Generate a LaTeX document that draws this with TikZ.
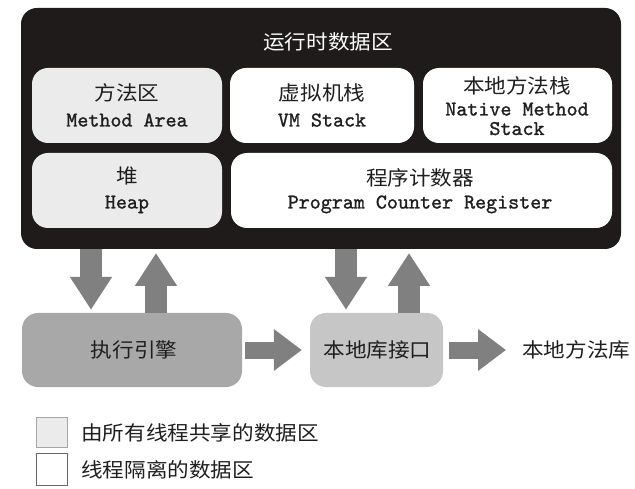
\documentclass[tikz,border=0pt]{standalone}
\usepackage{fontspec}
\newfontfamily\cjk[FakeStretch=1.08]{Noto Sans CJK SC}
\newfontfamily\enfont[FakeBold=1.2]{lmmono10-regular.otf}
\usetikzlibrary{arrows.meta}
\definecolor{darkbg}{HTML}{1E1B1A}
\definecolor{shared}{HTML}{EBEBEB}
\definecolor{arrowgray}{HTML}{808080}
\definecolor{execgray}{HTML}{A8A8A8}
\definecolor{nigray}{HTML}{C6C6C6}
\tikzset{
  cn/.style={inner sep=0pt, font=\cjk\fontsize{20}{24}\selectfont, text=black!88},
  en/.style={inner sep=0pt, font=\enfont\fontsize{21}{24}\selectfont, text height=13pt, text depth=0pt, text=black!88},
  area/.style={rounded corners=16pt, draw=none},
  vblock/.style={draw=arrowgray, line width=22pt, -{Triangle[width=40pt,length=33pt]}},
  hblock/.style={draw=arrowgray, line width=17pt, -{Triangle[width=40pt,length=28pt]}},
  legend/.style={line width=1pt}
}
\begin{document}
\begin{tikzpicture}[x=1pt,y=-1pt]
\useasboundingbox (0,0) rectangle (635,489);
\fill[white] (0,0) rectangle (635,489);

% runtime data area
\fill[darkbg, rounded corners=16pt] (21,8) rectangle (621,249);
\node[cn, text=white] (title) at (328,42) {运行时数据区};
\coordinate (rtbottom) at (321,249);

\fill[shared, area] (32,68) rectangle (222,143);
\fill[white, area] (230,68) rectangle (414,143);
\fill[white, area] (423,68) rectangle (612,143);
\fill[shared, area] (32,153) rectangle (222,228);
\fill[white, area] (231,153) rectangle (612,228);

\node[cn] (ma) at (127,93) {方法区};
\node[en] (mae) at (127,120) {Method Area};
\node[cn] (vm) at (322,93) {虚拟机栈};
\node[en] (vme) at (322,120) {VM Stack};
\node[cn] (nm) at (517,86) {本地方法栈};
\node[en] (nme1) at (517,109) {Native Method};
\node[en] (nme2) at (517,128.5) {Stack};
\node[cn] (heap) at (127,176) {堆};
\node[en] (heape) at (127,202) {Heap};
\node[cn] (pc) at (420,178) {程序计数器};
\node[en] (pce) at (420,202) {Program Counter Register};

% execution engine and native interface
\node[fill=execgray, rounded corners=16pt, minimum width=220pt, minimum height=74pt, inner sep=0pt] (exec) at (132,350) {};
\node[cn] (exect) at (134,350) {执行引擎};
\node[fill=nigray, rounded corners=16pt, minimum width=133pt, minimum height=74pt, inner sep=0pt] (ni) at (376.5,350) {};
\node[cn] (nit) at (377.5,350) {本地库接口};
\node[cn, anchor=west] (lib) at (522,350) {本地方法库};

% block arrows
\draw[vblock] ([xshift=-41pt]exec.north |- rtbottom) -- ([xshift=-41pt,yshift=3pt]exec.north);
\draw[vblock] ([xshift=24pt]exec.north) -- ([xshift=24pt,yshift=-4pt]exec.north |- rtbottom);
\draw[vblock] ([xshift=-30.5pt]ni.north |- rtbottom) -- ([xshift=-30.5pt,yshift=3pt]ni.north);
\draw[vblock] ([xshift=32.5pt]ni.north) -- ([xshift=32.5pt,yshift=-4pt]ni.north |- rtbottom);
\draw[hblock] ([xshift=3pt]exec.east) -- ([xshift=-8pt]ni.west);
\draw[hblock] ([xshift=6pt]ni.east) -- ([xshift=-16pt]lib.west);

% legend
\node[legend, draw=black!35, fill=shared, minimum width=31pt, minimum height=30pt, inner sep=0pt] (lg1) at (51.5,432) {};
\node[cn, anchor=west] (lg1t) at (81,433) {由所有线程共享的数据区};
\node[legend, draw=black!60, fill=white, minimum width=31pt, minimum height=32pt, inner sep=0pt] (lg2) at (51.5,469) {};
\node[cn, anchor=west] (lg2t) at (81,470) {线程隔离的数据区};
\end{tikzpicture}
\end{document}
